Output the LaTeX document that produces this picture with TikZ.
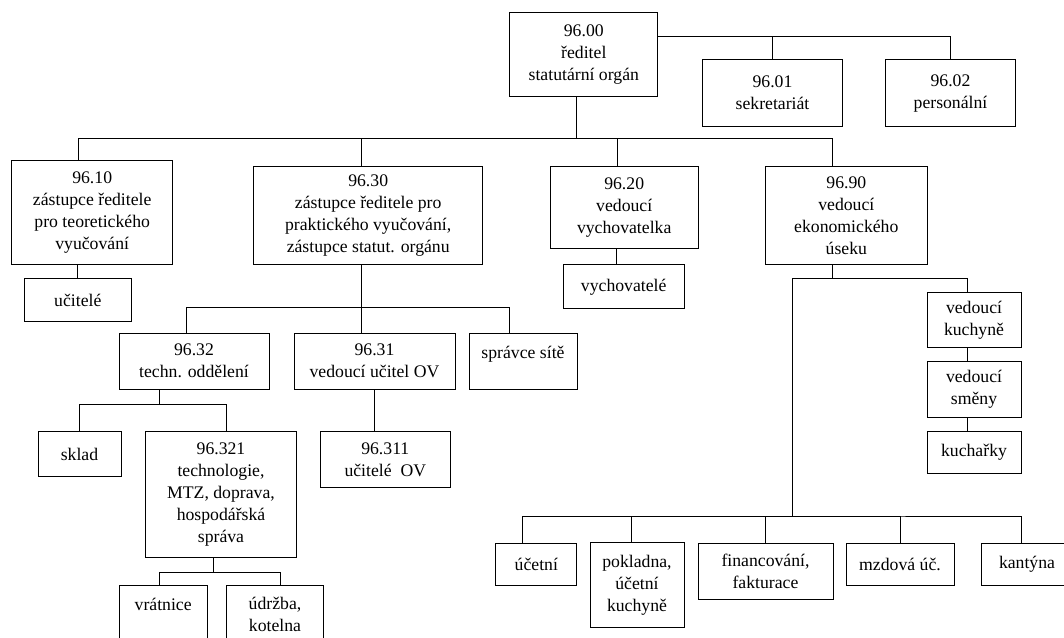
\documentclass[tikz,border=0pt]{standalone}
\usepackage{fontspec}
\setmainfont{Liberation Serif}
\tikzstyle{unit} = [rectangle, draw=black, line width=1pt, align=center, inner sep=2pt, font=\fontsize{17.7}{22}\selectfont]
\tikzstyle{link} = [line width=1pt]
\begin{document}
\begin{tikzpicture}[x=1pt, y=-1pt]
\useasboundingbox (0,0) rectangle (1064,637);
\node (n00) [unit, minimum width=148pt, minimum height=84pt] at (583.8,54.3) {96.00\\ředitel\\statutární orgán};
\node (n01) [unit, minimum width=140pt, minimum height=67pt] at (772.5,93) {96.01\\sekretariát};
\node (n02) [unit, minimum width=130pt, minimum height=67pt] at (950.5,93) {96.02\\personální};
\node (n10) [unit, minimum width=161.5pt, minimum height=104pt] at (92.2,212.7) {96.10\\zástupce ředitele\\pro teoretického\\vyučování};
\node (uc) [unit, minimum width=107pt, minimum height=43pt] at (77.8,300.2) {učitelé};
\node (n30) [unit, minimum width=229pt, minimum height=98pt] at (368.2,215.7) {96.30\\zástupce ředitele pro\\praktického vyučování,\\zástupce statut. orgánu};
\node (n20) [unit, minimum width=148pt, minimum height=82pt] at (624.2,207.5) {96.20\\vedoucí\\vychovatelka};
\node (vych) [unit, minimum width=121pt, minimum height=44pt] at (623.7,286.8) {vychovatelé};
\node (n90) [unit, minimum width=162pt, minimum height=98pt] at (846.3,215.7) {96.90\\vedoucí\\ekonomického\\úseku};
\node (n32) [unit, minimum width=150pt, minimum height=56pt] at (194,361) {96.32\\techn. oddělení};
\node (n31) [unit, minimum width=161pt, minimum height=56pt] at (374.5,361) {96.31\\vedoucí učitel OV};
\node (sprava) [unit, minimum width=108pt, text height=23pt, text depth=29pt] at (523,361) {správce sítě};
\node (sklad) [unit, minimum width=83pt, minimum height=45pt] at (79.5,454.2) {sklad};
\node (n321) [unit, minimum width=150.6pt, minimum height=126pt] at (221,494.7) {96.321\\technologie,\\MTZ, doprava,\\hospodářská\\správa};
\node (n311) [unit, minimum width=129.4pt, minimum height=56pt] at (385.3,459.7) {96.311\\učitelé\ \ OV};
\node (vratnice) [unit, minimum width=88.3pt, text height=22.3pt, text depth=48pt] at (163.2,622.9) {vrátnice};
\node (udrzba) [unit, minimum width=96.6pt, minimum height=57.6pt] at (275,614.5) {údržba,\\kotelna};
\node (kuch) [unit, minimum width=94pt, minimum height=55pt] at (974,320.2) {vedoucí\\kuchyně};
\node (smeny) [unit, minimum width=94pt, minimum height=55.6pt] at (974,389.5) {vedoucí\\směny};
\node (kucharky) [unit, minimum width=94pt, minimum height=41.6pt] at (974,452.5) {kuchařky};
\node (ucetni) [unit, minimum width=80.7pt, minimum height=42pt] at (536.3,564) {účetní};
\node (pokladna) [unit, minimum width=94pt, minimum height=84.7pt] at (637,585.3) {pokladna,\\účetní\\kuchyně};
\node (financ) [unit, minimum width=135pt, minimum height=56pt] at (765.5,571) {financování,\\fakturace};
\node (mzdova) [unit, minimum width=108pt, minimum height=42pt] at (900,564) {mzdová úč.};
\node (kantyna) [unit, minimum width=92pt, minimum height=42pt] at (1027,564) {kantýna};
% reditel
\draw [link] ([yshift=17.6pt]n00.east) -| (n02.north);
\draw [link] (n01.north) |- ([yshift=17.6pt]n00.east);
\draw [link] ([xshift=-7pt]n00.south) -- ++(0,41.7) coordinate (bus1);
\draw [link] ([xshift=-13.7pt]n10.north) |- (bus1) -| ([xshift=-13.5pt]n90.north);
\draw [link] ([xshift=-7pt]n30.north) |- (bus1);
\draw [link] ([xshift=-7pt]n20.north) |- (bus1);
\draw [link] (uc.north) -- (uc.north |- n10.south);
\draw [link] ([xshift=-7pt]vych.north) -- ([xshift=-7pt]vych.north |- n20.south);
% prakticke vyucovani
\draw [link] ([xshift=-7pt]n30.south) -- ++(0,42) coordinate (bus2);
\draw [link] ([xshift=-8pt]n32.north) |- (bus2) -| ([xshift=-13.6pt]sprava.north);
\draw [link] (bus2) -- (bus2 |- n31.north);
\draw [link] (n31.south) -- (n31.south |- n311.north);
\draw [link] ([xshift=-35pt]n32.south) -- ++(0,14.7) coordinate (bus3);
\draw [link] (sklad.north) |- (bus3) -| ([xshift=5.7pt]n321.north);
\draw [link] ([xshift=-7.7pt]n321.south) -- ++(0,14) coordinate (bus4);
\draw [link] ([xshift=-3.7pt]vratnice.north) |- (bus4) -| ([xshift=5.7pt]udrzba.north);
% ekonomicky usek
\draw [link] ([xshift=-13.5pt]n90.south) -- ++(0,13.6) coordinate (bus5);
\draw [link] ([xshift=-7pt]kuch.north) |- (bus5) -- ++(-40.5,0) -- ++(0,237.2) coordinate (bus6);
\draw [link] ([xshift=-7pt]kuch.south) -- ([xshift=-7pt]smeny.north);
\draw [link] ([xshift=-7pt]smeny.south) -- ([xshift=-7pt]kucharky.north);
\draw [link] ([xshift=-13.6pt]ucetni.north) |- (bus6) -| ([xshift=-6pt]kantyna.north);
\draw [link] ([xshift=-6pt]pokladna.north) |- (bus6);
\draw [link] (financ.north) |- (bus6);
\draw [link] (mzdova.north) |- (bus6);
\end{tikzpicture}
\end{document}
